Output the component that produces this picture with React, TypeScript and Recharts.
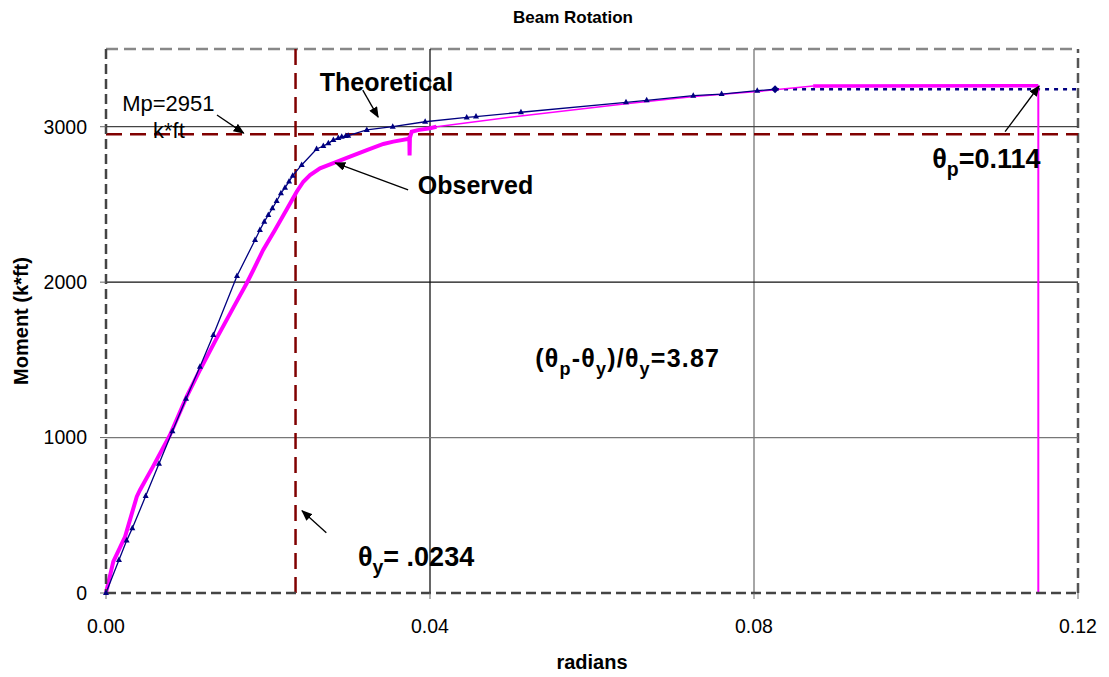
import { ComposedChart, Line, XAxis, YAxis, ReferenceLine, ReferenceDot } from 'recharts'

// theoretical moment-rotation curve (radians, k*ft)
const theoX = [
  0, 0.0016, 0.00255, 0.00325, 0.0049, 0.00654, 0.0082, 0.00988, 0.0116, 0.01325, 0.01617, 0.0184, 0.019,
  0.01954, 0.02004, 0.02054, 0.02107, 0.0216, 0.0221, 0.0226, 0.02305, 0.02416, 0.026, 0.02683, 0.02745, 0.02807,
  0.02868, 0.0291, 0.0296, 0.0299, 0.0322, 0.0354, 0.0394, 0.04453, 0.04568, 0.05123, 0.0642, 0.06675, 0.0725,
  0.076, 0.0804, 0.0826,
]
const theoY = [
  0, 212, 337, 416, 624, 832, 1040, 1250, 1456, 1660, 2040, 2271, 2336, 2389, 2432, 2475, 2522, 2572, 2608, 2647,
  2685, 2754, 2857, 2876, 2893, 2915, 2927, 2936, 2940, 2942, 2979, 3000, 3032, 3060, 3065, 3093, 3157, 3170, 3200,
  3210, 3232, 3241,
]
const theoExtX = [0.0826, 0.12]
const theoExtY = [3241, 3241]

// observed (test) curve
const obsX = [
  0, 0.0009, 0.00235, 0.0038, 0.0042, 0.0058, 0.0079, 0.00996, 0.0116, 0.01367, 0.01572, 0.01737, 0.01819, 0.0194,
  0.02086, 0.02234, 0.02354, 0.02436, 0.02519, 0.02642, 0.02807, 0.03012, 0.0322, 0.03424, 0.03547, 0.0373,
  0.03745, 0.03748, 0.03752, 0.03774, 0.0385, 0.04, 0.0408,
]
const obsY = [
  0, 202, 362, 620, 663, 813, 1017, 1263, 1435, 1640, 1836, 1993, 2078, 2207, 2336, 2470, 2582, 2646, 2689, 2732,
  2765, 2807, 2850, 2889, 2904, 2921, 2930, 2815, 2930, 2968, 2978, 2990, 3000,
]
const obsSparseX = [0.0408, 0.0512, 0.0642, 0.0726, 0.0804, 0.0873]
const obsSparseY = [3000, 3069, 3148, 3195, 3226, 3262]
const plateauX = [0.0873, 0.1151]
const plateauY = [3262, 3264]
const dropX = [0.1151, 0.1151]
const dropY = [3264, 0]

const xTicks = [0, 0.04, 0.08, 0.12]
const yTicks = [0, 1000, 2000, 3000]
const mp = 2951
const thetaYield = 0.0234

type Part = { t: string; sub?: boolean }
type Note = { x: number; y: number; size: number; bold: boolean; spacing?: number; parts: Part[] }

const notes: Note[] = [
  { x: 0.0264, y: 3230, size: 25, bold: true, parts: [{ t: 'Theoretical' }] },
  { x: 0.0385, y: 2567, size: 25, bold: true, parts: [{ t: 'Observed' }] },
  { x: 0.002, y: 3101, size: 22, bold: false, parts: [{ t: 'Mp=2951' }] },
  { x: 0.0058, y: 2927, size: 22, bold: false, parts: [{ t: 'k*ft' }] },
  { x: 0.102, y: 2734, size: 27, bold: true, parts: [{ t: 'θ' }, { t: 'p', sub: true }, { t: '=0.114' }] },
  {
    x: 0.053, y: 1454, size: 25, bold: true, spacing: 1.2,
    parts: [
      { t: '(θ' }, { t: 'p', sub: true }, { t: '-θ' }, { t: 'y', sub: true }, { t: ')/θ' }, { t: 'y', sub: true },
      { t: '=3.87' },
    ],
  },
  { x: 0.0311, y: 174, size: 27, bold: true, parts: [{ t: 'θ' }, { t: 'y', sub: true }, { t: '= .0234' }] },
]

const arrows = [
  { x1: 0.0317, y1: 3235, x2: 0.0336, y2: 3062 },
  { x1: 0.0137, y1: 3075, x2: 0.017, y2: 2959 },
  { x1: 0.0373, y1: 2593, x2: 0.0283, y2: 2767 },
  { x1: 0.111, y1: 2968, x2: 0.1152, y2: 3262 },
  { x1: 0.0272, y1: 388, x2: 0.0242, y2: 529 },
]

const toPts = (xs: number[], ys: number[]) => xs.map((x, i) => ({ x, y: ys[i] }))
const theoData = toPts(theoX, theoY)
const theoExtData = toPts(theoExtX, theoExtY)
const obsData = toPts(obsX, obsY)
const obsSparseData = toPts(obsSparseX, obsSparseY)
const plateauData = toPts(plateauX, plateauY)
const dropData = toPts(dropX, dropY)

const NAVY = '#000080'
const MAGENTA = '#FF00FF'
const DARKRED = '#800000'

function TheoDot(props: any) {
  const { cx, cy, index } = props
  if (cx == null || cy == null) return null
  if (index === theoX.length - 1) {
    return <path d={`M${cx},${cy - 4}L${cx + 4},${cy}L${cx},${cy + 4}L${cx - 4},${cy}Z`} fill={NAVY} />
  }
  return <path d={`M${cx},${cy - 3.5}L${cx + 3},${cy + 2}L${cx - 3},${cy + 2}Z`} fill={NAVY} />
}

function renderNote(props: any, note: Note) {
  const vb = props.viewBox || {}
  const x = (vb.x ?? 0) + (vb.width ?? 0) / 2
  const y = (vb.y ?? 0) + (vb.height ?? 0) / 2
  let inSub = false
  return (
    <text
      x={x}
      y={y}
      fontSize={note.size}
      fontWeight={note.bold ? 'bold' : 'normal'}
      letterSpacing={note.spacing ?? 0}
      fill="#000"
    >
      {note.parts.map((p, i) => {
        let dy = 0
        if (p.sub && !inSub) dy = 8
        if (!p.sub && inSub) dy = -8
        inSub = !!p.sub
        return (
          <tspan key={i} dy={dy} fontSize={p.sub ? note.size * 0.72 : note.size}>
            {p.t}
          </tspan>
        )
      })}
    </text>
  )
}

export default function App() {
  return (
    <div style={{ position: 'absolute', left: 0, top: 0, fontFamily: '"Liberation Sans", Arial, sans-serif', background: '#fff' }}>
      <ComposedChart width={1109} height={677} margin={{ top: 49, right: 31, left: 0, bottom: 0 }}>
        <defs>
          <marker id="arrowHead" markerWidth="11" markerHeight="9" refX="10" refY="4.5" orient="auto" markerUnits="userSpaceOnUse">
            <path d="M0,0 L11,4.5 L0,9 Z" fill="#000" />
          </marker>
        </defs>
        <text x={573} y={23} textAnchor="middle" fontSize={17} fontWeight="bold" fill="#000">
          Beam Rotation
        </text>
        <XAxis
          type="number"
          dataKey="x"
          domain={[0, 0.12]}
          ticks={xTicks}
          tickFormatter={(v: number) => v.toFixed(2)}
          height={84}
          tickSize={6}
          tickMargin={20}
          tick={{ fill: '#000', fontSize: 19.5 }}
          axisLine={{ stroke: '#444', strokeWidth: 2.5, strokeDasharray: '10 5' }}
          tickLine={{ stroke: '#666' }}
          label={{ value: 'radians', position: 'insideBottom', offset: 8, fontSize: 20, fontWeight: 'bold', fill: '#000' }}
        />
        <YAxis
          type="number"
          domain={[0, 3500]}
          ticks={yTicks}
          width={106}
          tickSize={6}
          tickMargin={13}
          tick={{ fill: '#000', fontSize: 19.5 }}
          axisLine={{ stroke: '#444', strokeWidth: 2.5, strokeDasharray: '10 5' }}
          tickLine={{ stroke: '#666' }}
          label={{
            value: 'Moment (k*ft)', angle: -90, position: 'insideLeft', offset: 21,
            fontSize: 20, fontWeight: 'bold', fill: '#000', style: { textAnchor: 'middle' },
          }}
        />
        {/* plot frame and grid */}
        <ReferenceLine y={3500} stroke="#888" strokeWidth={2.5} strokeDasharray="12 6" />
        <ReferenceLine x={0.12} stroke="#555" strokeWidth={2.5} strokeDasharray="10 5" />
        <ReferenceLine x={0.04} stroke="#000" strokeWidth={1.2} />
        <ReferenceLine x={0.08} stroke="#888" strokeWidth={1.5} />
        <ReferenceLine y={1000} stroke="#777" strokeWidth={1.2} />
        <ReferenceLine y={2000} stroke="#111" strokeWidth={1.2} />
        <ReferenceLine y={3000} stroke="#444" strokeWidth={1.2} />
        <ReferenceLine y={mp} stroke={DARKRED} strokeWidth={2.5} strokeDasharray="16 8" />
        <ReferenceLine x={thetaYield} stroke={DARKRED} strokeWidth={2.5} strokeDasharray="16 8" />

        <Line data={theoExtData} dataKey="y" stroke={NAVY} strokeWidth={2.5} strokeDasharray="4 5" dot={false} isAnimationActive={false} />
        <Line data={obsData} dataKey="y" stroke={MAGENTA} strokeWidth={4} dot={false} isAnimationActive={false} />
        <Line data={obsSparseData} dataKey="y" stroke={MAGENTA} strokeWidth={1.5} dot={false} isAnimationActive={false} />
        <Line data={plateauData} dataKey="y" stroke={MAGENTA} strokeWidth={3.5} dot={false} isAnimationActive={false} />
        <Line data={dropData} dataKey="y" stroke={MAGENTA} strokeWidth={2} dot={false} isAnimationActive={false} />
        <Line data={theoData} dataKey="y" stroke={NAVY} strokeWidth={1.3} dot={<TheoDot />} isAnimationActive={false} />

        {arrows.map((a, i) => (
          <ReferenceLine
            key={`a${i}`}
            segment={[{ x: a.x1, y: a.y1 }, { x: a.x2, y: a.y2 }]}
            stroke="#000"
            strokeWidth={1.3}
            markerEnd="url(#arrowHead)"
          />
        ))}
        {notes.map((n, i) => (
          <ReferenceDot
            key={`n${i}`}
            x={n.x}
            y={n.y}
            r={1}
            fill="none"
            stroke="none"
            label={(p: any) => renderNote(p, n)}
          />
        ))}
      </ComposedChart>
    </div>
  )
}
